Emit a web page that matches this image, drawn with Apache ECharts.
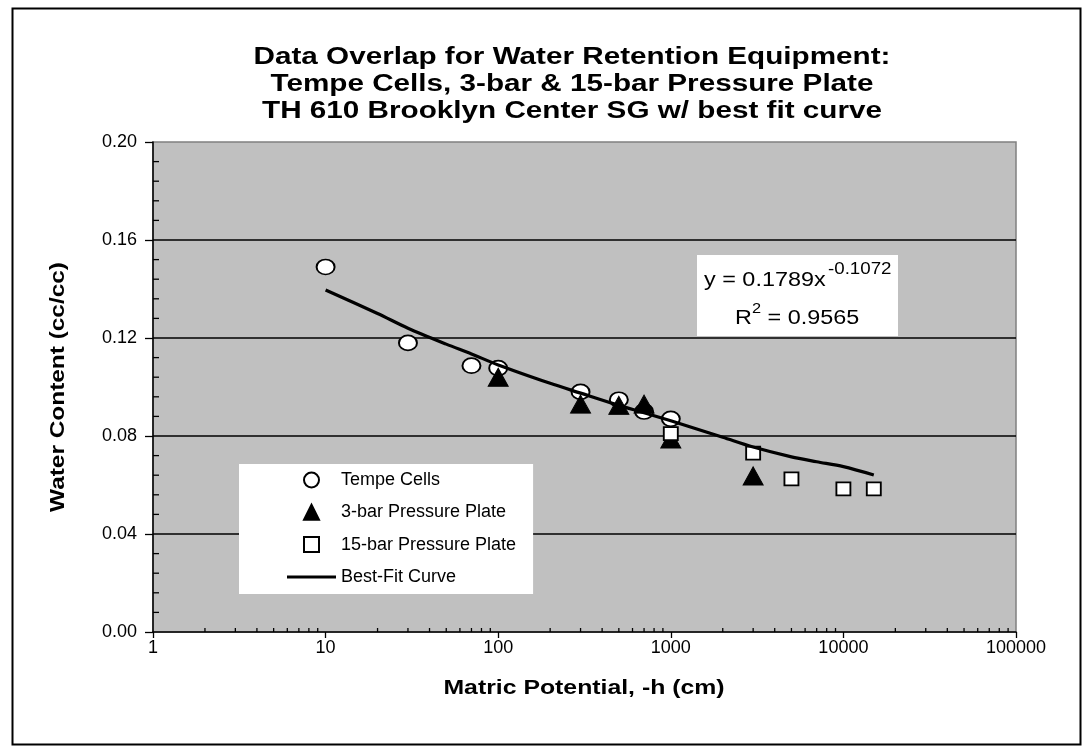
<!DOCTYPE html>
<html>
<head>
<meta charset="utf-8">
<script src="https://cdn.jsdelivr.net/npm/echarts@6/dist/echarts.min.js"></script>
<style>
html,body{margin:0;padding:0;background:#fff;}
#chart{width:1085px;height:748px;}
</style>
</head>
<body>
<div id="chart"></div>
<script>
// ---- data ----
const titleLines = [
  'Data Overlap for Water Retention Equipment:',
  'Tempe Cells, 3-bar & 15-bar Pressure Plate',
  'TH 610 Brooklyn Center SG w/ best fit curve'
];
const xAxisTitle = 'Matric Potential, -h (cm)';
const yAxisTitle = 'Water Content (cc/cc)';
const seriesNames = ['Tempe Cells', '3-bar Pressure Plate', '15-bar Pressure Plate', 'Best-Fit Curve'];

const tempeX = [10, 30, 70, 100, 300, 500, 700, 1000];
const tempeY = [0.149, 0.118, 0.1087, 0.1077, 0.098, 0.0948, 0.0900, 0.0870];

const bar3X = [100, 300, 500, 700, 1000, 3000];
const bar3Y = [0.104, 0.093, 0.0925, 0.093, 0.0788, 0.0637];

const bar15X = [1000, 3000, 5000, 10000, 15000];
const bar15Y = [0.081, 0.073, 0.0625, 0.0584, 0.0584];

const fitX = [10, 20, 30, 50, 70, 100, 200, 300, 500, 700, 1000, 2000, 3000, 5000, 7000, 10000, 15000];
const fitY = [0.1396, 0.130, 0.124, 0.1175, 0.1135, 0.109, 0.1015, 0.0975, 0.0925, 0.0895, 0.0862, 0.0795, 0.0755, 0.0715, 0.0695, 0.0675, 0.0641];

const xMin = 1, xMax = 100000;
const yMin = 0, yMax = 0.20, yInterval = 0.04, yMinorInterval = 0.008;
const xMinorMultipliers = [2, 3, 4, 5, 6, 7, 8, 9];
const xDecades = [1, 10, 100, 1000, 10000];

const equationText = 'y = 0.1789x';
const equationExp = '-0.1072';
const r2Text = ' = 0.9565';

// ---- build ----
const zip = (xs, ys) => xs.map((x, i) => [x, ys[i]]);
const minorXTicks = [];
xDecades.forEach(d => xMinorMultipliers.forEach(m => minorXTicks.push([d * m, yMin])));
const minorYTicks = [];
for (let i = 1; i * yMinorInterval < yMax - 1e-9; i++) {
  if (i % 5 !== 0) minorYTicks.push([xMin, +(i * yMinorInterval).toFixed(4)]);
}

const FONT = '"Liberation Sans", Arial, sans-serif';
const chart = echarts.init(document.getElementById('chart'), null, {renderer: 'canvas'});

const tickStyle = {stroke: '#000', lineWidth: 1.3};
const EQ_SX = 1.17;

const option = {
  backgroundColor: '#ffffff',
  animation: false,
  grid: {
    left: 153, top: 142, right: 69, bottom: 116,
    show: true, backgroundColor: '#C0C0C0', borderColor: '#808080', borderWidth: 1.5,
    containLabel: false
  },
  legend: {
    orient: 'vertical',
    left: 239, top: 464,
    backgroundColor: '#ffffff',
    padding: [7, 17, 8, 48],
    itemWidth: 49, itemHeight: 15, itemGap: 14.3,
    symbolKeepAspect: true,
    data: [
      {name: seriesNames[0], icon: 'circle'},
      {name: seriesNames[1], icon: 'path://M0,-1L1,1L-1,1Z'},
      {name: seriesNames[2], icon: 'path://M0,0L1,0L1,1L0,1Z'},
      {name: seriesNames[3], icon: 'path://M0,0L49,0L49,3L0,3Z'}
    ],
    textStyle: {fontFamily: FONT, fontSize: 18, color: '#000'},
    selectedMode: false
  },
  xAxis: {
    type: 'log', logBase: 10, min: xMin, max: xMax,
    axisLine: {show: true, lineStyle: {color: '#000', width: 1.5}},
    axisTick: {show: true, length: 6, lineStyle: {color: '#000', width: 1.3}},
    axisLabel: {fontFamily: FONT, fontSize: 18, color: '#000', margin: 7, formatter: v => String(Math.round(v))},
    splitLine: {show: false},
    minorTick: {show: false}
  },
  yAxis: {
    type: 'value', min: yMin, max: yMax, interval: yInterval,
    axisLine: {show: true, lineStyle: {color: '#000', width: 1.5}},
    axisTick: {show: true, length: 8, lineStyle: {color: '#000', width: 1.3}},
    axisLabel: {fontFamily: FONT, fontSize: 18, color: '#000', margin: 16, formatter: v => v.toFixed(2)},
    splitLine: {show: true, showMinLine: false, showMaxLine: false, lineStyle: {color: '#000', width: 1.5}}
  },
  series: [
    {
      name: seriesNames[0], type: 'scatter', data: zip(tempeX, tempeY),
      symbol: 'circle', symbolSize: [18, 15], z: 3,
      itemStyle: {color: '#ffffff', borderColor: '#000', borderWidth: 1.8, opacity: 1}
    },
    {
      name: seriesNames[1], type: 'scatter', data: zip(bar3X, bar3Y),
      symbol: 'triangle', symbolSize: [20, 18], z: 4,
      itemStyle: {color: '#000000', borderColor: '#000', borderWidth: 1, opacity: 1}
    },
    {
      name: seriesNames[2], type: 'scatter', data: zip(bar15X, bar15Y),
      symbol: 'rect', symbolSize: [14, 13], z: 5,
      itemStyle: {color: '#ffffff', borderColor: '#000', borderWidth: 1.8, opacity: 1}
    },
    {
      name: seriesNames[3], type: 'line', data: zip(fitX, fitY), smooth: 0.3,
      symbol: 'none', z: 6,
      lineStyle: {color: '#000', width: 3.2},
      itemStyle: {color: '#000'}
    },
    {
      name: 'minorX', type: 'custom', data: minorXTicks, clip: false, silent: true, z: 7,
      renderItem: (params, api) => {
        const p = api.coord([api.value(0), api.value(1)]);
        return {type: 'line', shape: {x1: p[0], y1: p[1], x2: p[0], y2: p[1] - 4}, style: tickStyle};
      }
    },
    {
      name: 'minorY', type: 'custom', data: minorYTicks, clip: false, silent: true, z: 7,
      renderItem: (params, api) => {
        const p = api.coord([api.value(0), api.value(1)]);
        return {type: 'line', shape: {x1: p[0], y1: p[1], x2: p[0] + 6, y2: p[1]}, style: tickStyle};
      }
    }
  ],
  graphic: [
    {type: 'rect', left: 10, top: 6, z: 100, silent: true,
     shape: {width: 1068, height: 736}, style: {fill: 'none', stroke: '#000', lineWidth: 2}},
    ...titleLines.map((t, i) => ({
      type: 'text', x: 572, y: 58 + i * 27, scaleX: 1.29, silent: true,
      style: {text: t, font: 'bold 23px ' + FONT, fill: '#000', textAlign: 'center', textVerticalAlign: 'middle'}
    })),
    {type: 'text', x: 584, y: 688, scaleX: 1.24, silent: true,
     style: {text: xAxisTitle, font: 'bold 20px ' + FONT, fill: '#000', textAlign: 'center', textVerticalAlign: 'middle'}},
    {type: 'text', x: 58, y: 387, rotation: Math.PI / 2, scaleX: 1.22, silent: true,
     style: {text: yAxisTitle, font: 'bold 20px ' + FONT, fill: '#000', textAlign: 'center', textVerticalAlign: 'middle'}},
    {type: 'group', left: 697, top: 255, z: 50, children: [
      {type: 'rect', shape: {x: 0, y: 0, width: 201, height: 81}, style: {fill: '#fff'}},
      {type: 'text', x: 7, y: 25, scaleX: EQ_SX, style: {text: equationText, font: '20px ' + FONT, fill: '#000', textVerticalAlign: 'middle'}},
      {type: 'text', x: 131, y: 15, scaleX: EQ_SX, style: {text: equationExp, font: '16px ' + FONT, fill: '#000', textVerticalAlign: 'middle'}},
      {type: 'text', x: 38, y: 63, scaleX: EQ_SX, style: {text: 'R', font: '20px ' + FONT, fill: '#000', textVerticalAlign: 'middle'}},
      {type: 'text', x: 55, y: 54, scaleX: EQ_SX, style: {text: '2', font: '14px ' + FONT, fill: '#000', textVerticalAlign: 'middle'}},
      {type: 'text', x: 64, y: 63, scaleX: EQ_SX, style: {text: r2Text, font: '20px ' + FONT, fill: '#000', textVerticalAlign: 'middle'}}
    ]}
  ]
};
chart.setOption(option);
</script>
</body>
</html>
